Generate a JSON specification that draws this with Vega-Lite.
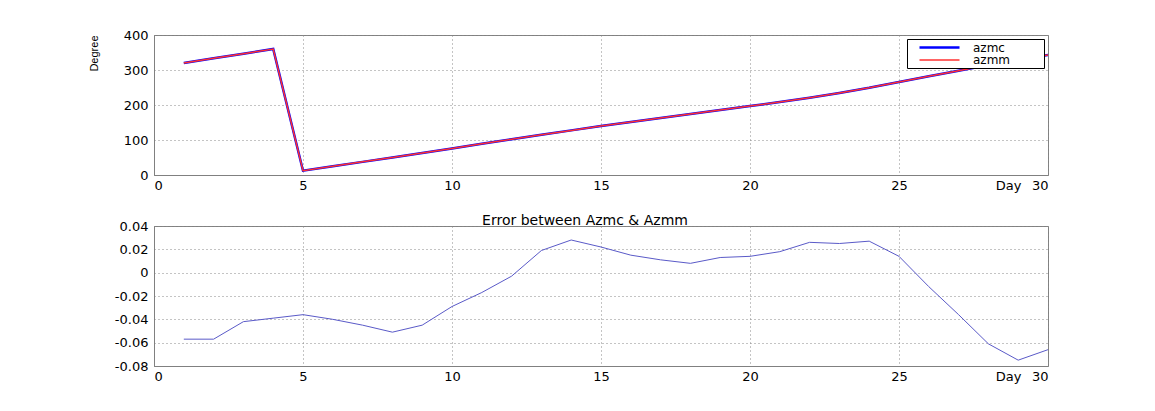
{
  "$schema": "https://vega.github.io/schema/vega-lite/v6.json",
  "background": "white",
  "padding": {"left": 87, "top": 28, "right": 0, "bottom": 0},
  "spacing": 20,
  "data": {
    "values": [
      {"day": 1, "azmc": 320.0, "azmm": 320.057, "err": -0.057},
      {"day": 2, "azmc": 333.3, "azmm": 333.357, "err": -0.057},
      {"day": 3, "azmc": 346.7, "azmm": 346.742, "err": -0.042},
      {"day": 4, "azmc": 360.0, "azmm": 360.039, "err": -0.039},
      {"day": 5, "azmc": 12.3, "azmm": 12.336, "err": -0.036},
      {"day": 6, "azmc": 25.0, "azmm": 25.04, "err": -0.040},
      {"day": 7, "azmc": 37.5, "azmm": 37.545, "err": -0.045},
      {"day": 8, "azmc": 50.0, "azmm": 50.051, "err": -0.051},
      {"day": 9, "azmc": 63.0, "azmm": 63.045, "err": -0.045},
      {"day": 10, "azmc": 76.0, "azmm": 76.029, "err": -0.029},
      {"day": 11, "azmc": 89.0, "azmm": 89.017, "err": -0.017},
      {"day": 12, "azmc": 102.0, "azmm": 102.003, "err": -0.003},
      {"day": 13, "azmc": 115.0, "azmm": 114.981, "err": 0.019},
      {"day": 14, "azmc": 127.5, "azmm": 127.472, "err": 0.028},
      {"day": 15, "azmc": 140.0, "azmm": 139.978, "err": 0.022},
      {"day": 16, "azmc": 151.5, "azmm": 151.485, "err": 0.015},
      {"day": 17, "azmc": 163.0, "azmm": 162.989, "err": 0.011},
      {"day": 18, "azmc": 174.0, "azmm": 173.992, "err": 0.008},
      {"day": 19, "azmc": 185.5, "azmm": 185.487, "err": 0.013},
      {"day": 20, "azmc": 197.0, "azmm": 196.986, "err": 0.014},
      {"day": 21, "azmc": 208.5, "azmm": 208.482, "err": 0.018},
      {"day": 22, "azmc": 220.5, "azmm": 220.474, "err": 0.026},
      {"day": 23, "azmc": 234.0, "azmm": 233.975, "err": 0.025},
      {"day": 24, "azmc": 249.0, "azmm": 248.973, "err": 0.027},
      {"day": 25, "azmc": 266.0, "azmm": 265.986, "err": 0.014},
      {"day": 26, "azmc": 282.0, "azmm": 282.012, "err": -0.012},
      {"day": 27, "azmc": 298.0, "azmm": 298.036, "err": -0.036},
      {"day": 28, "azmc": 314.0, "azmm": 314.061, "err": -0.061},
      {"day": 29, "azmc": 329.0, "azmm": 329.075, "err": -0.075},
      {"day": 30, "azmc": 343.0, "azmm": 343.066, "err": -0.066}
    ]
  },
  "vconcat": [
    {
      "width": 894,
      "height": 140,
      "transform": [{"fold": ["azmc", "azmm"], "as": ["series", "deg"]}],
      "mark": {"type": "line", "clip": true},
      "encoding": {
        "x": {
          "field": "day", "type": "quantitative",
          "scale": {"domain": [0, 30], "nice": false},
          "axis": {"values": [0, 5, 10, 15, 20, 25, 30], "title": "Day", "titleAnchor": "end", "titleAlign": "right", "titleBaseline": "top", "titleX": 867, "titleY": 4, "titleFontWeight": "normal", "titleFontSize": 13, "titleFont": "DejaVu Sans"}
        },
        "y": {
          "field": "deg", "type": "quantitative",
          "scale": {"domain": [0, 400], "nice": false},
          "axis": {"values": [0, 100, 200, 300, 400], "title": "Degree", "titleAnchor": "end", "titleFont": "Liberation Sans", "titleFontSize": 11, "titleFontWeight": "normal", "titlePadding": 24}
        },
        "color": {
          "field": "series", "type": "nominal",
          "scale": {"domain": ["azmc", "azmm"], "range": ["#0000ff", "#ff3030"]},
          "legend": {"orient": "none", "legendX": 753, "legendY": 4, "title": "\u00a0", "titleOrient": "right", "titlePadding": 32, "titleFontSize": 11, "strokeColor": "black", "fillColor": "white", "padding": 2, "symbolType": "M-4,0H4", "symbolSize": 100, "symbolOffset": 24, "symbolStrokeWidth": 2, "labelFontSize": 12, "labelFont": "DejaVu Sans", "labelOffset": 27, "rowPadding": -5}
        },
        "strokeWidth": {
          "field": "series", "type": "nominal",
          "scale": {"domain": ["azmc", "azmm"], "range": [2.5, 1.5]},
          "legend": null
        }
      }
    },
    {
      "width": 894,
      "height": 140,
      "title": {"text": "Error between Azmc & Azmm", "fontSize": 14, "font": "DejaVu Sans", "fontWeight": "normal", "offset": -8, "anchor": "middle", "dx": -16, "color": "black"},
      "mark": {"type": "line", "color": "#5a5ac8", "strokeWidth": 1, "clip": true},
      "encoding": {
        "x": {
          "field": "day", "type": "quantitative",
          "scale": {"domain": [0, 30], "nice": false},
          "axis": {"values": [0, 5, 10, 15, 20, 25, 30], "title": "Day", "titleAnchor": "end", "titleAlign": "right", "titleBaseline": "top", "titleX": 867, "titleY": 4, "titleFontWeight": "normal", "titleFontSize": 13, "titleFont": "DejaVu Sans"}
        },
        "y": {
          "field": "err", "type": "quantitative",
          "scale": {"domain": [-0.08, 0.04], "nice": false},
          "axis": {"values": [-0.08, -0.06, -0.04, -0.02, 0, 0.02, 0.04], "title": null, "labelExpr": "'' + (round(datum.value * 100) / 100)"}
        }
      }
    }
  ],
  "config": {
    "font": "DejaVu Sans",
    "axis": {"labelFont": "DejaVu Sans", "labelFontSize": 13, "labelColor": "black", "ticks": false, "labelPadding": 4, "domainColor": "#808080", "grid": true, "gridDash": [1, 3], "gridColor": "#888888", "gridOpacity": 1, "titleColor": "black"},
    "axisY": {"labelPadding": 6},
    "view": {"stroke": "#808080"}
  }
}
